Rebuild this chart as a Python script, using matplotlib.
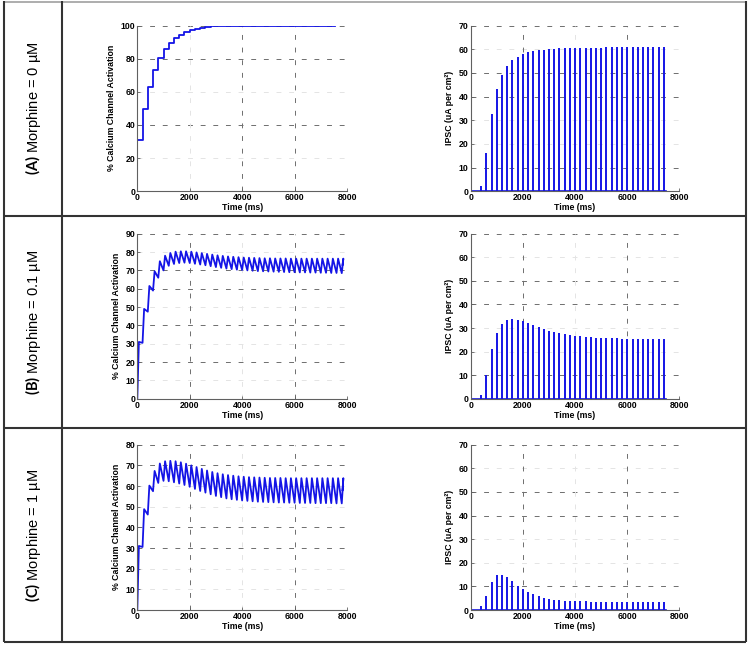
import numpy as np
import matplotlib
matplotlib.use('Agg')
import matplotlib.pyplot as plt

plt.rcParams['font.family'] = ['Liberation Sans', 'DejaVu Sans']
plt.rcParams['mathtext.fontset'] = 'custom'
plt.rcParams['mathtext.rm'] = 'Lato'
plt.rcParams['mathtext.bf'] = 'Lato:bold'

# ---- data ----
row_tags = ['(A)', '(B)', '(C)']
row_texts = [' Morphine = 0 µM', ' Morphine = 0.1 µM', ' Morphine = 1 µM']

# calcium channel activation: value right after each stimulus (peak) and
# value just before the next stimulus (trough)
ca_pulses_a = list(range(0, 7401, 200))
ca_peak_a = [31, 49.5, 63, 73, 80.5, 86, 89.5, 92.5, 94.5, 96,
             97.2, 98, 98.6, 99.1, 99.4, 99.6, 99.8, 99.9, 100, 100,
             100, 100, 100, 100, 100, 100, 100, 100, 100, 100,
             100, 100, 100, 100, 100, 100, 100, 100]
ca_trough_a = ca_peak_a[:-1]
ca_end_a = (7550, 100)

ca_pulses_b = list(range(0, 7801, 200))
ca_peak_b = [31, 49, 61.5, 69.5, 75, 78, 79.5, 80.2, 80.4, 80.4,
             80.2, 79.8, 79.4, 79, 78.6, 78.2, 77.9, 77.6, 77.4, 77.2,
             77, 76.9, 76.8, 76.7, 76.6, 76.6, 76.5, 76.5, 76.5, 76.4,
             76.4, 76.4, 76.4, 76.4, 76.4, 76.4, 76.4, 76.4, 76.4, 76.4]
ca_trough_b = [30.5, 47.5, 59, 66, 70, 72.5, 73.5, 74, 74.2, 74,
               73.6, 73.2, 72.8, 72.3, 71.8, 71.4, 71, 70.7, 70.4, 70.2,
               70, 69.8, 69.6, 69.5, 69.4, 69.3, 69.2, 69.1, 69, 69,
               68.9, 68.9, 68.8, 68.8, 68.7, 68.7, 68.6, 68.6, 68.5]
ca_end_b = (7830, 73)

ca_pulses_c = list(range(0, 7801, 200))
ca_peak_c = [31, 48.8, 60.2, 67.3, 70.9, 72, 72.2, 72, 71.5, 70.8,
             70, 69.2, 68.3, 67.5, 66.8, 66.2, 65.7, 65.3, 65, 64.7,
             64.5, 64.3, 64.2, 64.1, 64, 63.9, 63.9, 63.9, 63.8, 63.8,
             63.8, 63.8, 63.8, 63.8, 63.8, 63.8, 63.8, 63.8, 63.8, 63.8]
ca_trough_c = [30.5, 46.2, 57.5, 61.5, 62.5, 62.3, 61.8, 61.2, 60.5, 59.6,
               58.6, 57.6, 56.8, 56, 55.2, 54.6, 54, 53.6, 53.3, 53,
               52.8, 52.6, 52.4, 52.3, 52.2, 52.1, 52, 52, 51.9, 51.9,
               51.8, 51.8, 51.8, 51.7, 51.7, 51.7, 51.7, 51.6, 51.6]
ca_end_c = (7830, 58)

# IPSC pulses
ipsc_times = list(range(400, 7401, 200))
ipsc_end = 7500
ipsc_a = [2.4, 16, 32.8, 43.2, 49, 52.9, 55.3, 56.8, 57.8, 58.6,
          59.1, 59.5, 59.8, 60.1, 60.2, 60.3, 60.4, 60.5, 60.5, 60.6,
          60.6, 60.7, 60.7, 60.7, 60.8, 60.8, 60.8, 60.8, 60.8, 60.8,
          60.9, 60.9, 60.9, 60.9, 60.9, 60.9]
ipsc_b = [1.7, 10, 21, 28.1, 31.8, 33.4, 33.8, 33.4, 33, 32.1,
          31.3, 30.4, 29.6, 28.9, 28.4, 28, 27.6, 27.2, 26.8, 26.6,
          26.3, 26.1, 25.9, 25.8, 25.7, 25.6, 25.6, 25.5, 25.5, 25.5,
          25.4, 25.4, 25.4, 25.4, 25.4, 25.4]
ipsc_c = [1.5, 6, 11.8, 14.8, 15, 14, 12.3, 10.3, 8.7, 7.5,
          6.6, 5.8, 5.1, 4.6, 4.4, 4.1, 3.9, 3.8, 3.7, 3.6,
          3.6, 3.5, 3.5, 3.4, 3.4, 3.4, 3.3, 3.3, 3.3, 3.3,
          3.2, 3.2, 3.2, 3.2, 3.2, 3.2]

ca_rows = [(ca_pulses_a, ca_peak_a, ca_trough_a, ca_end_a),
           (ca_pulses_b, ca_peak_b, ca_trough_b, ca_end_b),
           (ca_pulses_c, ca_peak_c, ca_trough_c, ca_end_c)]
ipsc_rows = [ipsc_a, ipsc_b, ipsc_c]
ca_ymax = [100, 90, 80]
ca_ystep = [20, 10, 10]
rise_ms = [0, 60, 60]   # how long the trace takes to climb after a stimulus

# grid lines that show up dark in the original (the rest are barely visible)
strong_left = [([40, 80, 100], [4000, 6000]),
               ([20, 40, 60, 70, 90], [2000, 6000]),
               ([30, 40, 70, 80], [2000, 6000])]
strong_right = [([10, 40, 50, 70], [2000, 6000]),
                ([10, 40, 50, 70], [2000, 6000]),
                ([10, 40, 50, 70], [2000, 6000])]

W, H = 750, 647
blue = '#1414e6'
fig = plt.figure(figsize=(W / 100, H / 100), dpi=100)

# table frame + row labels
frame = fig.add_axes([0, 0, 1, 1])
frame.set_xlim(0, W)
frame.set_ylim(H, 0)
frame.axis('off')
frame.plot([4, 746], [1.5, 1.5], color='#a0a0a0', lw=1.2)
for xs, ys in [([4, 4], [1, 642]), ([746, 746], [1, 642]), ([62, 62], [1, 642]),
               ([4, 746], [642, 642]), ([4, 746], [216, 216]), ([4, 746], [428, 428])]:
    frame.plot(xs, ys, color='#333333', lw=1.5, solid_capstyle='butt')
for tag, txt, yc in zip(row_tags, row_texts, [108, 322, 535]):
    frame.text(33, yc, r'$\mathbf{' + tag + '}$' + txt, rotation=90,
               ha='center', va='center', fontsize=10.5)


def grid(ax, ys, xs, strong):
    for y in ys:
        ax.axhline(y, color='#6e6e6e' if y in strong[0] else '#e4e4e4',
                   lw=0.7, dashes=(5, 8), zorder=0)
    for x in xs:
        ax.axvline(x, color='#6e6e6e' if x in strong[1] else '#e4e4e4',
                   lw=0.7, dashes=(5, 8), zorder=0)


def style(ax, ylabel, labelpad):
    for s in ['top', 'right']:
        ax.spines[s].set_visible(False)
    for s in ['left', 'bottom']:
        ax.spines[s].set_color('#606060')
        ax.spines[s].set_linewidth(0.8)
    ax.tick_params(direction='in', length=2.5, width=0.6, color='#606060',
                   labelsize=6.3, pad=1.5)
    for lab in ax.get_xticklabels() + ax.get_yticklabels():
        lab.set_fontweight('bold')
    ax.set_xlabel('Time (ms)', fontsize=6.3, fontweight='bold', labelpad=0.5)
    ax.set_ylabel(ylabel, fontsize=6.3, fontweight='bold', labelpad=labelpad)


rows_px = [(25.5, 191.2), (233.7, 398.8), (444.7, 610.0)]
xticks = [0, 2000, 4000, 6000, 8000]
for r, (top, bot) in enumerate(rows_px):
    b = 1 - bot / H
    h = (bot - top) / H

    # calcium activation trace
    ax = fig.add_axes([137.3 / W, b, (347 - 137.3) / W, h])
    pulses, peaks, troughs, end = ca_rows[r]
    xs, ys = [0], [0]
    for i, t in enumerate(pulses):
        xs.append(t + rise_ms[r])
        ys.append(peaks[i])
        if i < len(pulses) - 1:
            xs.append(pulses[i + 1])
            ys.append(troughs[i])
    xs.append(end[0])
    ys.append(end[1])
    ax.plot(xs, ys, color=blue, lw=1.3)
    yt = list(range(0, ca_ymax[r] + 1, ca_ystep[r]))
    ax.set_xlim(0, 8000)
    ax.set_ylim(0, ca_ymax[r])
    ax.set_xticks(xticks)
    ax.set_yticks(yt)
    grid(ax, yt[1:], xticks[1:-1], strong_left[r])
    style(ax, '% Calcium Channel Activation', 3)

    # IPSC pulses
    ax2 = fig.add_axes([470.7 / W, b, (679.5 - 470.7) / W, h])
    ax2.vlines(ipsc_times, 0, ipsc_rows[r], color=blue, lw=1.4)
    ax2.plot([0, ipsc_end], [0, 0], color=blue, lw=1.2)
    yt2 = list(range(0, 71, 10))
    ax2.set_xlim(0, 8000)
    ax2.set_ylim(0, 70)
    ax2.set_xticks(xticks)
    ax2.set_yticks(yt2)
    grid(ax2, yt2[1:], xticks[1:-1], strong_right[r])
    style(ax2, 'IPSC (uA per cm²)', 3.5)

fig.savefig('out.png', dpi=100)
